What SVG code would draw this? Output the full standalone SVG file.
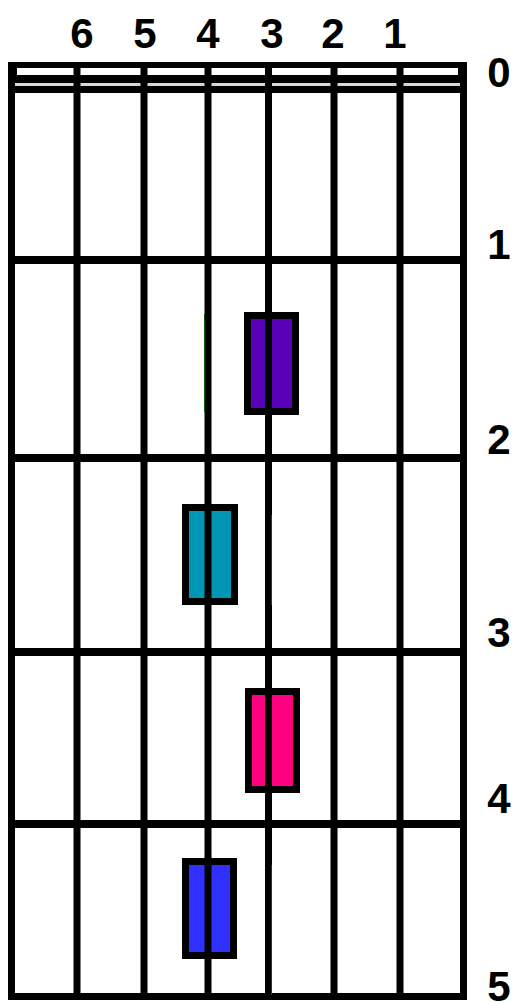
<svg xmlns="http://www.w3.org/2000/svg" width="516" height="1002" viewBox="0 0 516 1002">
<style>
.lbl{font-family:"Liberation Sans",Arial,sans-serif;font-weight:bold;font-size:42px;fill:#000;text-anchor:middle}
.str{stroke:#000;stroke-width:7;fill:none}
.fret{stroke:#000;stroke-width:8;fill:none}
.mk{stroke:#000;stroke-width:7}
</style>
<rect width="516" height="1002" fill="#fff"/>
<g id="labels-top">
<text class="lbl" x="82" y="48">6</text>
<text class="lbl" x="145" y="48">5</text>
<text class="lbl" x="208" y="48">4</text>
<text class="lbl" x="272" y="48">3</text>
<text class="lbl" x="333" y="48">2</text>
<text class="lbl" x="395" y="48">1</text>
</g>
<g id="labels-right">
<text class="lbl" x="499" y="87">0</text>
<text class="lbl" x="499" y="259">1</text>
<text class="lbl" x="499" y="454">2</text>
<text class="lbl" x="499" y="647">3</text>
<text class="lbl" x="499" y="813">4</text>
<text class="lbl" x="499" y="1001">5</text>
</g>
<g id="nut">
<rect x="9" y="62" width="457" height="21" fill="#000"/>
<rect x="17" y="68" width="441" height="7" fill="#fff"/>
<rect x="9" y="83" width="457" height="3" fill="#d8d8d8"/>
</g>
<g id="frets">
<rect x="11.5" y="89.5" width="452" height="907" class="str"/>
<line class="fret" x1="11" y1="260" x2="464" y2="260"/>
<line class="fret" x1="11" y1="458" x2="464" y2="458"/>
<line class="fret" x1="11" y1="652" x2="464" y2="652"/>
<line class="fret" x1="11" y1="824" x2="464" y2="824"/>
</g>
<g id="markers">
<rect id="m1" class="mk" x="247.5" y="315.5" width="48" height="96" fill="#5a00b8"/>
<rect id="m2" class="mk" x="185.5" y="507.5" width="49" height="94" fill="#0096b4"/>
<rect id="m3" class="mk" x="248.5" y="691.5" width="48" height="98" fill="#ff0080"/>
<rect id="m4" class="mk" x="185.5" y="861.5" width="48" height="94" fill="#3030ff"/>
</g>
<g id="strings">
<line class="str" x1="11.5" y1="62" x2="11.5" y2="1000"/>
<line class="str" x1="77" y1="62" x2="77" y2="1000"/>
<line class="str" x1="144" y1="62" x2="144" y2="1000"/>
<line class="str" x1="208" y1="62" x2="208" y2="1000"/>
<line class="str" x1="268.5" y1="62" x2="268.5" y2="1000"/>
<line class="str" x1="334" y1="62" x2="334" y2="1000"/>
<line class="str" x1="400" y1="62" x2="400" y2="1000"/>
<line class="str" x1="463.5" y1="62" x2="463.5" y2="1000"/>
<line x1="204.5" y1="314" x2="204.5" y2="412" stroke="#006000" stroke-width="1"/>
<line x1="271.5" y1="515" x2="271.5" y2="605" stroke="#800080" stroke-width="1"/>
<line x1="271.5" y1="865" x2="271.5" y2="995" stroke="#a00000" stroke-width="1"/>
</g>
</svg>
